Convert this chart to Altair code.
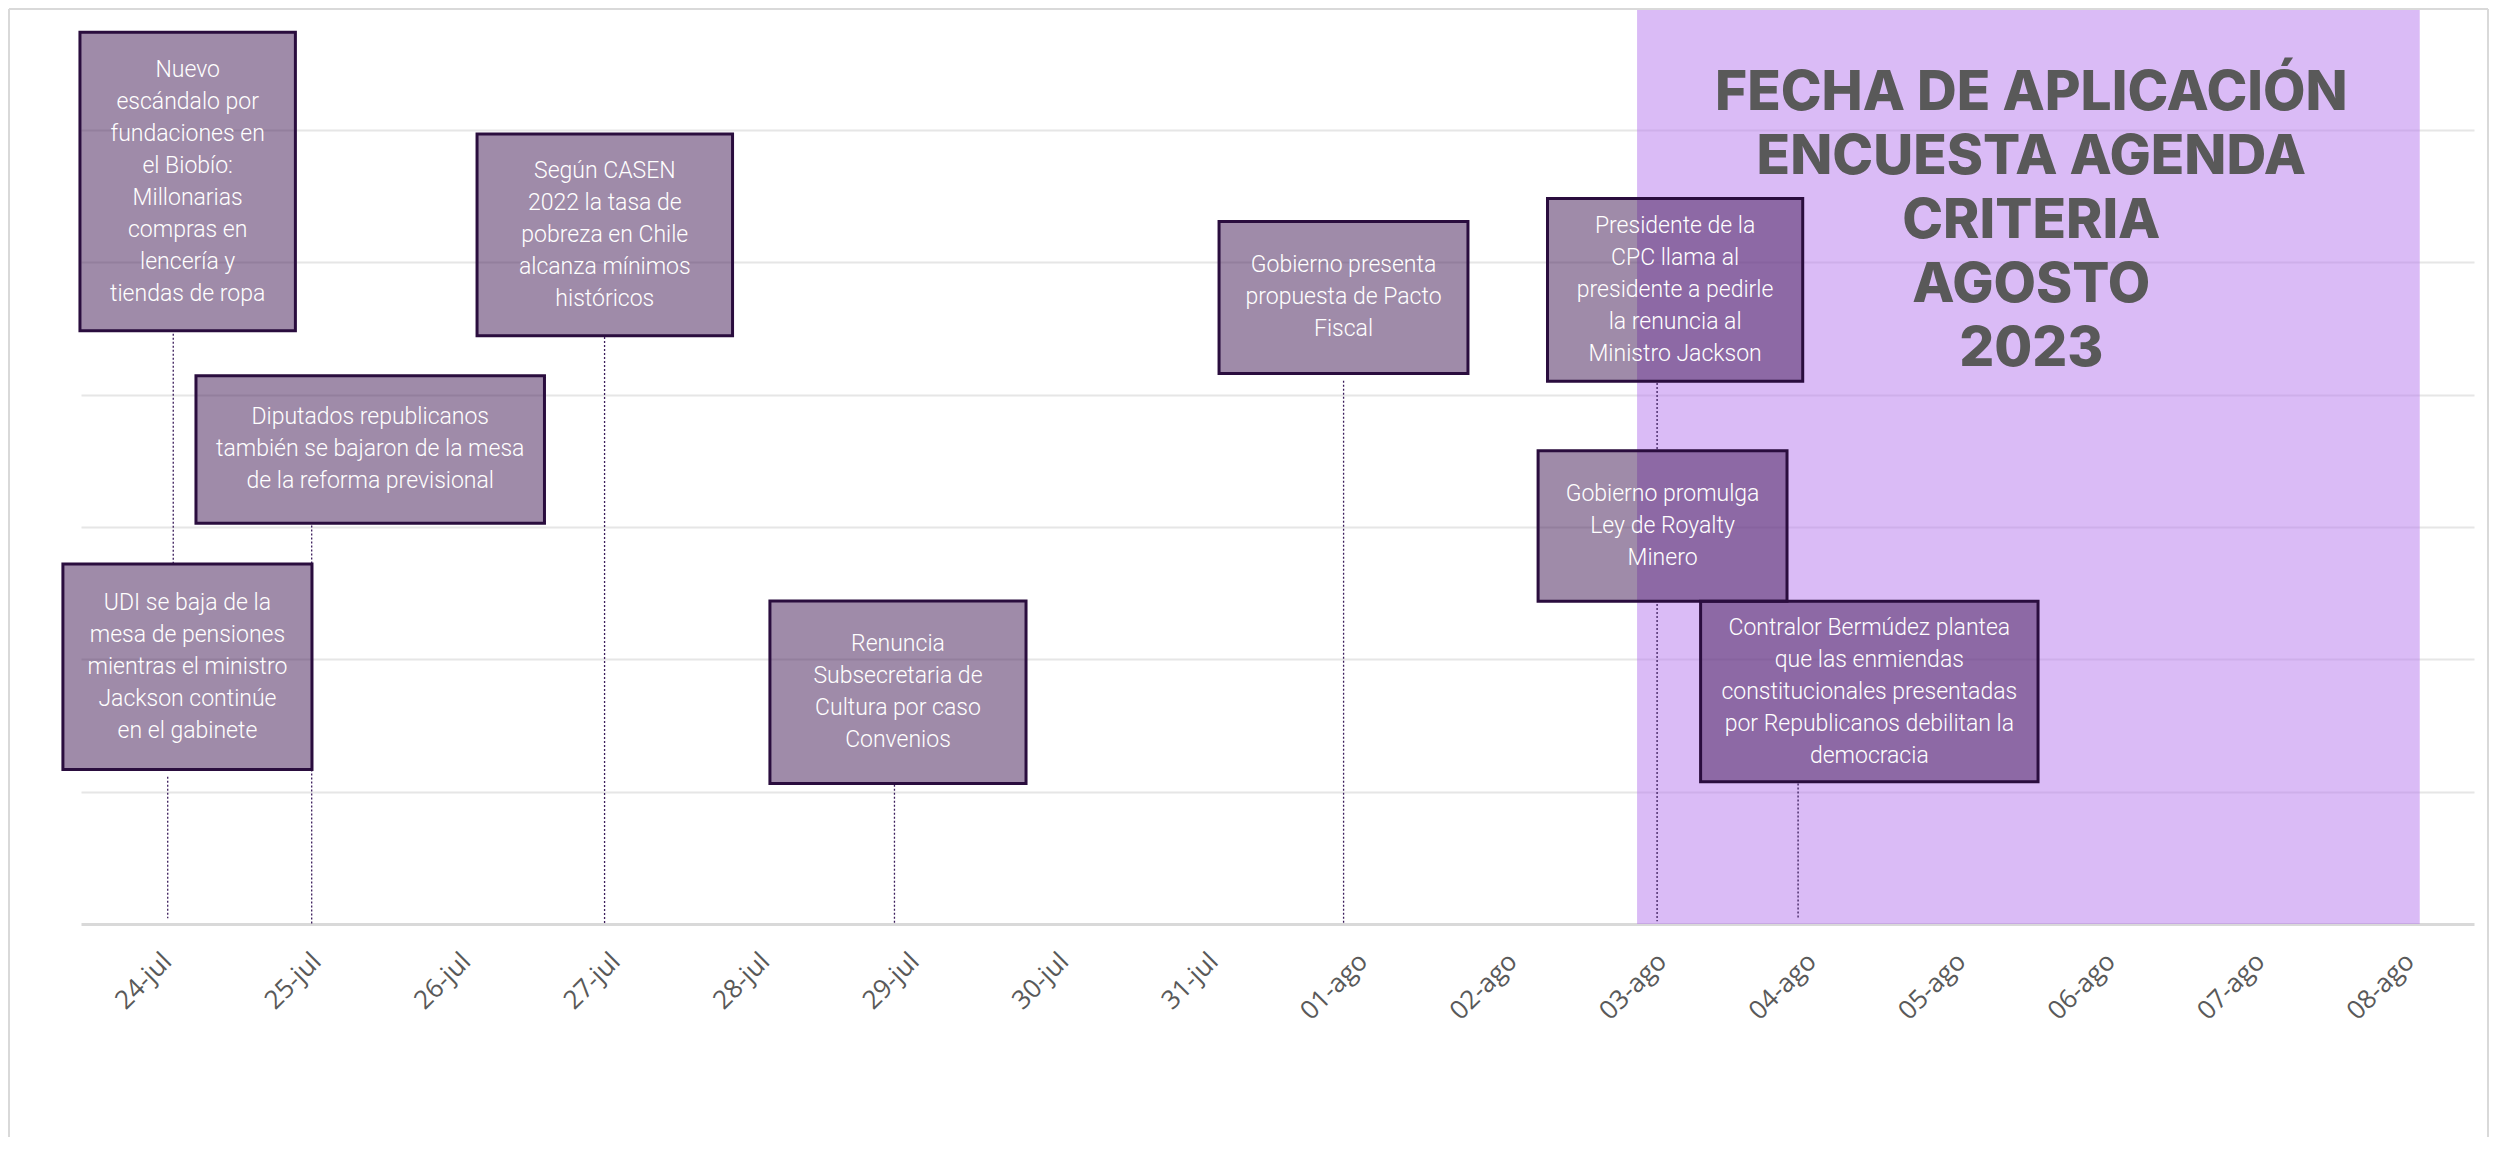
import altair as alt
import pandas as pd

# Eje X: días desde el 24-jul (0 = 24-jul)
etiquetas_x = ["24-jul", "25-jul", "26-jul", "27-jul", "28-jul", "29-jul", "30-jul", "31-jul",
               "01-ago", "02-ago", "03-ago", "04-ago", "05-ago", "06-ago", "07-ago", "08-ago"]
dias_ticks = list(range(16))
x_dominio = [-0.575, 15.431]
y_dominio = [0, 6.913]
y_grilla = [1, 2, 3, 4, 5, 6]

# Eventos
textos = [
    "Nuevo\nescándalo por\nfundaciones en\nel Biobío:\nMillonarias\ncompras en\nlencería y\ntiendas de ropa",
    "Según CASEN\n2022 la tasa de\npobreza en Chile\nalcanza mínimos\nhistóricos",
    "Diputados republicanos\ntambién se bajaron de la mesa\nde la reforma previsional",
    "UDI se baja de la\nmesa de pensiones\nmientras el ministro\nJackson continúe\nen el gabinete",
    "Renuncia\nSubsecretaria de\nCultura por caso\nConvenios",
    "Gobierno presenta\npropuesta de Pacto\nFiscal",
    "Presidente de la\nCPC llama al\npresidente a pedirle\nla renuncia al\nMinistro Jackson",
    "Gobierno promulga\nLey de Royalty\nMinero",
    "Contralor Bermúdez plantea\nque las enmiendas\nconstitucionales presentadas\npor Republicanos debilitan la\ndemocracia",
]
caja_x1 = [-0.582, 2.074, 0.194, -0.696, 4.033, 7.037, 9.234, 9.171, 10.258]
caja_x2 = [0.859, 3.783, 2.525, 0.970, 5.746, 8.702, 10.941, 10.836, 12.515]
caja_y1 = [4.482, 4.444, 3.028, 1.168, 1.062, 4.160, 4.101, 2.438, 1.075]
caja_y2 = [6.737, 5.969, 4.143, 2.719, 2.441, 5.308, 5.482, 3.576, 2.438]

linea_x = [0.042, 2.927, 0.968, 0.005, 4.866, 7.870, 9.967, 9.967, 10.910]
linea_sup = [4.460, 4.435, 3.011, 1.113, 1.052, 4.105, 4.088, 2.418, 1.062]
linea_inf = [2.717, 0.0, 0.0, 0.043, 0.0, 0.0, 3.583, 0.02, 0.045]

# Franja del periodo de aplicación
franja_x1 = [9.833]
franja_x2 = [15.068]

titulo = "FECHA DE APLICACIÓN\nENCUESTA AGENDA\nCRITERIA\nAGOSTO\n2023"
titulo_x = [12.47]
titulo_y = [5.309]

# Layout (pixels)
ANCHO, ALTO = 2393, 915
PX_UNIDAD = ALTO / (y_dominio[1] - y_dominio[0])
LH_CAJA, LH_TIT = 32, 64

df_cajas = pd.DataFrame({"texto": textos, "x1": caja_x1, "x2": caja_x2, "y1": caja_y1, "y2": caja_y2})
df_cajas["xc"] = (df_cajas["x1"] + df_cajas["x2"]) / 2
n_lin = df_cajas["texto"].str.count("\n") + 1
df_cajas["yt"] = (df_cajas["y1"] + df_cajas["y2"]) / 2 + (n_lin - 1) / 2 * LH_CAJA / PX_UNIDAD
df_lineas = pd.DataFrame({"x": linea_x, "y1": linea_sup, "y2": linea_inf})
df_franja = pd.DataFrame({"x1": franja_x1, "x2": franja_x2, "y1": [y_dominio[0]], "y2": [y_dominio[1]]})
df_titulo = pd.DataFrame({"x": titulo_x, "y": titulo_y, "t": [titulo]})
df_titulo["yt"] = df_titulo["y"] + (titulo.count("\n")) / 2 * LH_TIT / PX_UNIDAD

label_expr = "[" + ",".join("'" + s + "'" for s in etiquetas_x) + "][datum.value]"

xs = alt.Scale(domain=x_dominio, nice=False, zero=False)
ys = alt.Scale(domain=y_dominio, nice=False, zero=False)

x_axis = alt.Axis(values=dias_ticks, labelExpr=label_expr, labelAngle=-45, labelAlign="right",
                  labelBaseline="middle", labelPadding=33, ticks=False, tickSize=0, grid=False,
                  domain=True, domainColor="#d9d9d9", domainWidth=3, title=None,
                  labelFont="Open Sans", labelFontSize=26, labelColor="#595959",
                  labelOverlap=False, labelFlush=False, labelBound=False)
y_axis = alt.Axis(values=y_grilla, grid=True, gridColor="#e6e6e6", gridWidth=2, labels=False,
                  ticks=False, domain=False, title=None, minExtent=0, maxExtent=0)

base_grid = alt.Chart(df_franja).mark_rect(fill="#b577ed", opacity=0.5).encode(
    x=alt.X("x1:Q", scale=xs, axis=x_axis),
    x2="x2:Q",
    y=alt.Y("y1:Q", scale=ys, axis=y_axis),
    y2="y2:Q",
)

lineas = alt.Chart(df_lineas).mark_rule(color="#3b1d5c", strokeWidth=1.3, strokeDash=[2, 2]).encode(
    x=alt.X("x:Q", scale=xs), y=alt.Y("y1:Q", scale=ys), y2="y2:Q"
)

cajas = alt.Chart(df_cajas).mark_rect(fill="#3f1753", fillOpacity=0.5, stroke="#2a0d3e",
                                      strokeWidth=3, strokeOpacity=1).encode(
    x=alt.X("x1:Q", scale=xs), x2="x2:Q", y=alt.Y("y1:Q", scale=ys), y2="y2:Q"
)

textos_cajas = alt.Chart(df_cajas).mark_text(lineBreak="\n", font="Roboto", fontWeight=300, fontSize=23,
                                             lineHeight=LH_CAJA, color="#ffffff", align="center",
                                             baseline="middle").encode(
    x=alt.X("xc:Q", scale=xs), y=alt.Y("yt:Q", scale=ys), text="texto:N"
)

titulo_txt = alt.Chart(df_titulo).mark_text(lineBreak="\n", font="Inter", fontWeight=800, fontSize=55,
                                            lineHeight=LH_TIT, color="#595959", align="center",
                                            baseline="middle").encode(
    x=alt.X("x:Q", scale=xs), y=alt.Y("yt:Q", scale=ys), text="t:N"
)

marco_df = pd.DataFrame({"k": [0]})
marco_izq = alt.Chart(marco_df).mark_rule(color="#d9d9d9", strokeWidth=2).encode(
    x=alt.value(-72), y=alt.value(0), y2=alt.value(1128))
marco_der = alt.Chart(marco_df).mark_rule(color="#d9d9d9", strokeWidth=2).encode(
    x=alt.value(2407), y=alt.value(0), y2=alt.value(1128))
marco_sup = alt.Chart(marco_df).mark_rule(color="#d9d9d9", strokeWidth=2).encode(
    x=alt.value(-72), x2=alt.value(2407), y=alt.value(0))

chart = alt.layer(base_grid, lineas, cajas, textos_cajas, titulo_txt, marco_izq, marco_der, marco_sup).properties(
    width=ANCHO, height=ALTO, padding={"left": 0, "top": 0, "right": 0, "bottom": 0}
).configure_view(strokeWidth=0)

chart.save("out.html", embed_options={"renderer": "svg", "actions": False})
